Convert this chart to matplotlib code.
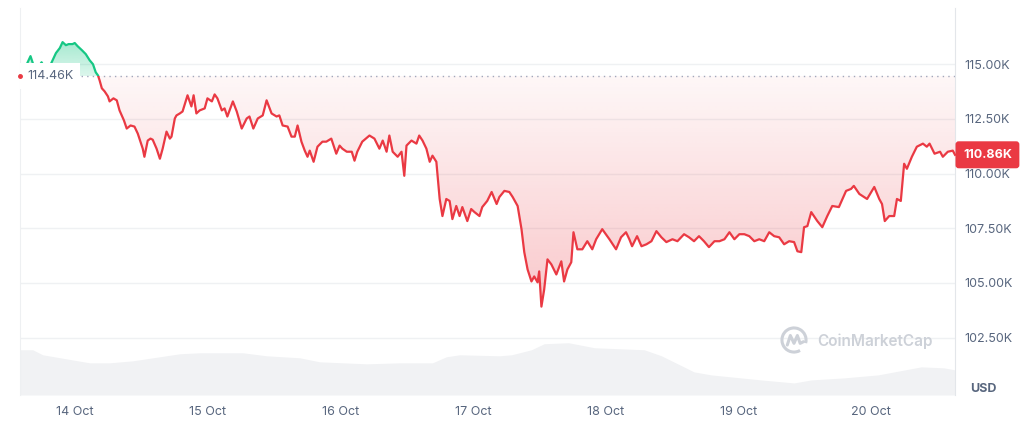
import numpy as np
import matplotlib
matplotlib.use("Agg")
import matplotlib.pyplot as plt
import matplotlib.transforms as mtransforms
from matplotlib.patches import PathPatch, Rectangle, Arc
from matplotlib.path import Path
from matplotlib.colors import to_rgb

plt.rcParams['font.family'] = ['Inter', 'DejaVu Sans']

# ---- data (hours since 14 Oct 00:00, price in thousand USD) ----
hours = [-9.9, -9.0, -8.0, -7.4, -6.7, -6.0, -5.4, -4.5, -4.0, -3.4, -2.7, -2.2, -1.6, -1.1, -0.4,
         0.0, 0.5, 1.3, 2.0, 2.7, 3.3, 3.8, 4.2, 4.5, 4.9, 5.4, 6.0, 6.3, 7.0, 7.6, 8.1, 8.9, 9.4,
         10.1, 10.8, 11.4, 11.7, 12.3, 12.6, 13.2, 13.7, 14.1, 14.8, 15.4, 15.9, 16.6, 17.2, 17.5,
         18.1, 18.4, 19.0, 19.5, 20.4, 21.1, 21.5, 22.0, 22.6, 23.5, 24.0, 24.8, 25.3, 25.8, 26.6,
         27.1, 27.6, 28.6, 29.3, 30.2, 31.1, 31.6, 32.3, 33.1, 34.0, 34.7, 35.6, 36.5, 37.0, 37.6,
         38.5, 39.2, 39.8, 40.3, 41.0, 41.6, 42.1, 42.5, 43.2, 43.9, 44.8, 45.5, 46.4, 47.3, 47.9,
         48.4, 49.2, 50.1, 50.6, 51.1, 52.0, 53.3, 54.2, 55.1, 55.7, 56.4, 56.9, 57.5, 58.4, 59.1,
         59.6, 60.0, 60.9, 61.8, 62.3, 62.9, 63.6, 64.2, 64.7, 65.4, 66.0, 66.5, 67.2, 67.8, 68.3,
         69.0, 69.6, 70.1, 71.0, 71.7, 72.3, 73.2, 73.7, 74.6, 75.4, 76.3, 76.8, 77.7, 78.6, 79.2,
         80.1, 80.8, 81.3, 81.9, 82.6, 83.1, 83.7, 84.0, 84.4, 84.9, 85.5, 86.2, 87.1, 88.0, 88.5,
         89.1, 89.8, 90.2, 90.9, 91.8, 92.7, 93.6, 94.3, 95.4, 96.7, 97.9, 98.8, 99.7, 100.3, 100.8,
         101.7, 102.5, 103.4, 104.3, 105.2, 106.1, 107.0, 108.1, 109.0, 110.2, 111.1, 112.0, 112.9,
         113.8, 114.7, 115.7, 116.6, 117.5, 118.4, 119.3, 120.2, 121.1, 122.0, 122.9, 123.8, 124.7,
         125.6, 126.5, 127.4, 128.3, 129.2, 130.1, 130.7, 131.4, 131.9, 132.5, 133.2, 134.3, 135.2,
         136.1, 137.0, 138.2, 139.5, 140.4, 140.9, 141.9, 143.3, 144.6, 145.5, 146.0, 146.5, 147.3,
         148.2, 148.7, 149.4, 150.0, 150.5, 151.4, 152.3, 153.4, 154.1, 154.6, 155.5, 156.5, 157.0,
         157.9, 158.8, 159.2]
price = [114.46, 114.82, 115.37, 114.91, 114.82, 115.09, 114.82, 114.91, 115.18, 115.51, 115.74,
         116.01, 115.87, 115.92, 115.92, 115.97, 115.83, 115.64, 115.46, 115.18, 115.00, 114.63,
         114.49, 114.26, 113.90, 113.76, 113.53, 113.30, 113.44, 113.35, 112.89, 112.43, 112.06,
         112.20, 112.15, 111.83, 111.60, 111.14, 110.77, 111.51, 111.60, 111.55, 111.14, 110.68,
         111.14, 111.92, 111.60, 111.69, 112.52, 112.66, 112.75, 112.84, 113.58, 113.07, 113.58,
         112.75, 112.89, 112.98, 113.44, 113.30, 113.62, 113.44, 112.89, 112.98, 112.61, 113.30,
         112.84, 112.06, 112.52, 112.61, 112.06, 112.52, 112.66, 113.35, 112.75, 112.61, 112.66,
         112.20, 112.15, 111.69, 111.69, 112.20, 111.46, 111.05, 110.77, 111.05, 110.54, 111.23,
         111.46, 111.46, 111.60, 110.91, 111.28, 111.14, 111.00, 111.00, 110.59, 111.00, 111.46,
         111.74, 111.60, 111.14, 111.51, 111.00, 111.74, 111.00, 110.77, 111.00, 109.90, 111.28,
         111.51, 111.37, 111.74, 111.51, 111.14, 110.54, 110.82, 110.54, 108.84, 108.06, 108.84,
         108.75, 107.92, 108.52, 108.06, 108.47, 107.83, 108.38, 108.24, 108.06, 108.47, 108.75,
         109.16, 108.61, 108.93, 109.21, 109.16, 108.93, 108.52, 107.46, 106.41, 105.62, 105.07,
         105.30, 105.03, 105.53, 103.92, 104.70, 106.08, 105.85, 105.39, 105.99, 105.07, 105.62,
         105.95, 107.32, 106.54, 106.54, 106.91, 106.54, 107.00, 107.46, 107.00, 106.54, 107.09,
         107.32, 107.00, 106.68, 107.14, 106.68, 106.77, 106.91, 107.37, 107.09, 106.87, 107.00,
         106.91, 107.23, 107.09, 106.91, 107.14, 106.91, 106.64, 106.91, 106.91, 107.00, 107.32,
         107.00, 107.23, 107.23, 107.14, 106.91, 107.00, 106.91, 107.32, 107.14, 107.09, 106.77,
         106.91, 106.87, 106.45, 106.41, 107.55, 107.60, 108.24, 107.83, 107.55, 108.06, 108.52,
         108.47, 109.21, 109.30, 109.44, 109.07, 108.84, 109.39, 108.84, 108.61, 107.83, 108.06,
         108.06, 108.84, 108.75, 110.45, 110.22, 110.77, 111.23, 111.37, 111.23, 111.37, 110.91,
         111.00, 110.77, 111.00, 111.05, 110.86]

vol_hours = [-9.9, -7.6, -5.8, 2.7, 6.3, 10.5, 19.0, 22.6, 30.4, 34.7, 40.7, 44.3, 52.8, 58.7,
             64.7, 67.2, 69.6, 76.8, 79.0, 82.6, 84.9, 89.3, 94.0, 103.0, 106.1, 112.0, 115.1,
             124.1, 130.1, 133.2, 139.1, 145.3, 153.1, 157.2, 159.2]
volume = [4.5, 4.5, 4.0, 3.2, 3.2, 3.4, 4.1, 4.2, 4.2, 3.9, 3.7, 3.3, 3.1, 3.2, 3.2, 3.8, 4.0,
          3.9, 4.0, 4.5, 5.1, 5.2, 4.7, 4.5, 3.9, 2.3, 2.0, 1.5, 1.2, 1.5, 1.7, 2.0, 2.8, 2.7, 2.5]

baseline = 114.46
last_price = 110.86
y_ticks = [102.5, 105.0, 107.5, 110.0, 112.5, 115.0]
y_tick_labels = ['102.50K', '105.00K', '107.50K', '110.00K', '112.50K', '115.00K']
day_ticks = [0, 24, 48, 72, 96, 120, 144]
day_labels = ['14 Oct', '15 Oct', '16 Oct', '17 Oct', '18 Oct', '19 Oct', '20 Oct']

RED = '#ea3943'
GREEN = '#16c784'
GREY_TXT = '#58667e'

W, H = 1024, 421
fig = plt.figure(figsize=(W / 100, H / 100), dpi=100)
L, R, B, T = 20, 955, 395, 8
rect = [L / W, 1 - B / H, (R - L) / W, (B - T) / H]

# volume axes (behind)
axv = fig.add_axes(rect, zorder=0)
axv.fill_between(vol_hours, volume, 0, color='#f1f2f4', lw=0)
axv.set_xlim(hours[0], hours[-1])
axv.set_ylim(0, 38.5)
axv.axis('off')

ax = fig.add_axes(rect, zorder=1)
ax.patch.set_visible(False)
x = np.array(hours)
p = np.array(price)
x0, x1 = hours[0], hours[-1]
ymin, ymax = 99.88, 117.57

below = ax.fill_between(x, p, baseline, where=p <= baseline, interpolate=True,
                        facecolor='none', edgecolor='none')
above = ax.fill_between(x, p, baseline, where=p >= baseline, interpolate=True,
                        facecolor='none', edgecolor='none')


def gradient(coll, color, a_top, a_bot, ybot, ytop):
    paths = coll.get_paths()
    if not paths:
        return
    cp = Path.make_compound_path(*paths)
    patch = PathPatch(cp, transform=ax.transData, facecolor='none', edgecolor='none')
    ax.add_patch(patch)
    n = 256
    img = np.zeros((n, 2, 4))
    img[..., :3] = to_rgb(color)
    img[..., 3] = np.linspace(a_top, a_bot, n)[:, None]
    im = ax.imshow(img, extent=[x0, x1, ybot, ytop], origin='upper', aspect='auto',
                   zorder=1, interpolation='bilinear')
    im.set_clip_path(patch)


gradient(below, RED, 0.04, 0.28, min(price), baseline)
gradient(above, GREEN, 0.38, 0.15, baseline, max(price))

red_line, = ax.plot(x, p, color=RED, lw=1.6, zorder=3, solid_joinstyle='round')
red_line.set_clip_path(Rectangle((x0 - 5, ymin - 5), x1 - x0 + 10, baseline - ymin + 5,
                                 transform=ax.transData))
green_line, = ax.plot(x, p, color=GREEN, lw=1.6, zorder=3, solid_joinstyle='round')
green_line.set_clip_path(Rectangle((x0 - 5, baseline), x1 - x0 + 10, ymax - baseline + 5,
                                   transform=ax.transData))

ax.axhline(baseline, color='#a1a7bb', lw=1, linestyle=(0, (1, 3)), zorder=2)

ax.set_xlim(x0, x1)
ax.set_ylim(ymin, ymax)
ax.set_yticks(y_ticks, y_tick_labels)
ax.set_xticks(day_ticks, day_labels)
ax.yaxis.tick_right()
ax.yaxis.grid(True, color='#eff1f3', lw=1, zorder=0)
ax.set_axisbelow(True)
ax.tick_params(axis='y', length=0, pad=7, labelsize=9, labelcolor=GREY_TXT)
ax.tick_params(axis='x', length=0, pad=8, labelsize=9, labelcolor=GREY_TXT)
for s in ['top', 'bottom']:
    ax.spines[s].set_visible(False)
ax.spines['left'].set_color('#eef0f2')
ax.spines['right'].set_color('#e3e6ea')

trans = mtransforms.blended_transform_factory(ax.transAxes, ax.transData)
ax.annotate('114.46K', xy=(0, baseline), xycoords=trans, xytext=(7, 0),
            textcoords='offset pixels', ha='left', va='center', fontsize=9, color=GREY_TXT,
            bbox=dict(boxstyle='square,pad=0.55', fc='white', ec='none'), zorder=6)
ax.plot([x0], [baseline], 'o', color=RED, ms=2.5, zorder=7, clip_on=False)

ax.annotate('110.86K', xy=(1, last_price), xycoords=trans, xytext=(8, 0),
            textcoords='offset pixels', ha='left', va='center', fontsize=9,
            fontweight='bold', color='white', annotation_clip=False,
            bbox=dict(boxstyle='round,pad=0.6,rounding_size=0.25', fc=RED, ec='none'), zorder=6)

fig.text(983 / W, 1 - 389 / H, 'USD', ha='center', va='center', fontsize=9,
         fontweight='bold', color=GREY_TXT)

# watermark
fig.text(817 / W, 1 - 341 / H, 'CoinMarketCap', ha='left', va='center', fontsize=11,
         color='#cdd1d8', fontweight='semibold')
axl = fig.add_axes([780 / W, 1 - 354 / H, 28 / W, 28 / H], zorder=2)
axl.set_xlim(0, 1)
axl.set_ylim(0, 1)
axl.axis('off')
axl.add_patch(Arc((0.5, 0.5), 0.86, 0.86, theta1=-15, theta2=300, color='#cdd1d8', lw=2.2))
axl.plot([0.26, 0.37, 0.5, 0.62, 0.72, 0.84], [0.32, 0.66, 0.38, 0.66, 0.38, 0.44],
         color='#cdd1d8', lw=2.2, solid_joinstyle='round', solid_capstyle='round')

fig.savefig('out.png', dpi=100, facecolor='white')
